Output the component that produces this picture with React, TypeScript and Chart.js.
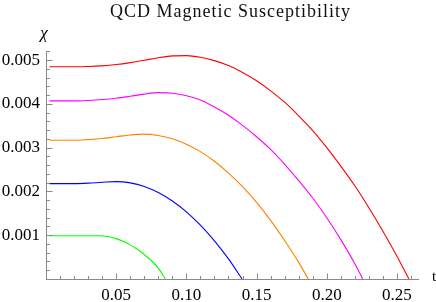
import React, { useEffect, useRef } from "react";
import { Chart, registerables } from "chart.js";

Chart.register(...registerables);

// ---- Data (t, chi) ----
const tRed = [0.0025, 0.01, 0.02, 0.03, 0.04, 0.05, 0.06, 0.07, 0.08, 0.09, 0.1, 0.11, 0.12, 0.13, 0.14, 0.15, 0.16, 0.17, 0.18, 0.19, 0.2, 0.21, 0.22, 0.23, 0.24, 0.25, 0.2585];
const chiRed = [0.00485, 0.00485, 0.00485, 0.004855, 0.00487, 0.0049, 0.004945, 0.005, 0.005055, 0.005098, 0.005105, 0.005067, 0.00499, 0.004876, 0.00472, 0.00453, 0.0043, 0.00404, 0.00373, 0.00339, 0.003, 0.00258, 0.00213, 0.00163, 0.00109, 0.00052, 0];

const tMagenta = [0.0025, 0.01, 0.02, 0.03, 0.04, 0.05, 0.06, 0.07, 0.08, 0.09, 0.1, 0.11, 0.12, 0.13, 0.14, 0.15, 0.16, 0.17, 0.18, 0.19, 0.2, 0.21, 0.22, 0.2256];
const chiMagenta = [0.00407, 0.00407, 0.00407, 0.00408, 0.0041, 0.00413, 0.004175, 0.004225, 0.004258, 0.004243, 0.004186, 0.00409, 0.00393, 0.00374, 0.00351, 0.00325, 0.00296, 0.00262, 0.00225, 0.00185, 0.0014, 0.0009, 0.00035, 0];

const tOrange = [0.0025, 0.01, 0.02, 0.03, 0.04, 0.05, 0.06, 0.069, 0.08, 0.09, 0.1, 0.11, 0.12, 0.13, 0.14, 0.15, 0.16, 0.17, 0.18, 0.1868];
const chiOrange = [0.00317, 0.00317, 0.00317, 0.003185, 0.00321, 0.00325, 0.00329, 0.00331, 0.00328, 0.003205, 0.00308, 0.00291, 0.00269, 0.00242, 0.00211, 0.00175, 0.00134, 0.00088, 0.00038, 0];

const tBlue = [0.0025, 0.01, 0.02, 0.03, 0.04, 0.05, 0.06, 0.07, 0.08, 0.09, 0.1, 0.11, 0.12, 0.13, 0.1397];
const chiBlue = [0.00218, 0.00218, 0.00218, 0.00219, 0.00221, 0.002225, 0.002197, 0.002115, 0.001977, 0.001783, 0.001535, 0.00123, 0.000872, 0.000459, 0];

const tGreen = [0.0025, 0.01, 0.02, 0.03, 0.037, 0.045, 0.05, 0.055, 0.06, 0.065, 0.07, 0.075, 0.08, 0.085];
const chiGreen = [0.00099, 0.00099, 0.00099, 0.00099, 0.00099, 0.000965, 0.000923, 0.00086, 0.00078, 0.00068, 0.00056, 0.00042, 0.00025, 0];

const seriesColors = ["#ff0000", "#ff00ff", "#ff8000", "#0000ff", "#00ff00"];

const xMin = 0;
const xMax = 0.265;
const xMajorStep = 0.05;
const xMinorStep = 0.01;
const yMin = 0;
const yMax = 0.00521;
const yMajorStep = 0.001;
const yMinorStep = 0.0002;

const titleText = "QCD Magnetic Susceptibility";
const xAxisLabel = "t";
const yAxisLabel = "χ";

const axisColor = "#8a8a8a";
const serif = "'Liberation Serif', 'Times New Roman', serif";

function toPoints(ts: number[], vs: number[]) {
  return ts.map((t, i) => ({ x: t, y: vs[i] }));
}

function drawSpaced(ctx: CanvasRenderingContext2D, text: string, cx: number, y: number, spacing: number) {
  const chars = Array.from(text);
  const widths = chars.map((c) => ctx.measureText(c).width);
  const total = widths.reduce((a, b) => a + b, 0) + spacing * (chars.length - 1);
  let x = cx - total / 2;
  ctx.textAlign = "left";
  chars.forEach((c, i) => {
    ctx.fillText(c, x, y);
    x += widths[i] + spacing;
  });
}

export default function App() {
  const ref = useRef<HTMLCanvasElement>(null);

  useEffect(() => {
    if (!ref.current) return;

    const decor = {
      id: "decor",
      afterDraw(chart: any) {
        const ctx = chart.ctx as CanvasRenderingContext2D;
        const xs = chart.scales.x;
        const ys = chart.scales.y;
        const ca = chart.chartArea;
        ctx.save();
        // minor / major tick marks pointing into the plot
        ctx.strokeStyle = axisColor;
        ctx.lineWidth = 1;
        ctx.beginPath();
        const axisY = Math.round(ca.bottom) + 0.5;
        const axisX = Math.round(ca.left) + 0.5;
        const nx = Math.floor((xMax - xMin) / xMinorStep + 1e-9);
        for (let i = 1; i <= nx; i++) {
          const v = xMin + i * xMinorStep;
          const px = Math.round(xs.getPixelForValue(v)) + 0.5;
          const len = i % 5 === 0 ? 6 : 3.5;
          ctx.moveTo(px, axisY);
          ctx.lineTo(px, axisY - len);
        }
        const ny = Math.floor((yMax - yMin) / yMinorStep + 1e-9);
        for (let i = 1; i <= ny; i++) {
          const v = yMin + i * yMinorStep;
          const py = Math.round(ys.getPixelForValue(v)) + 0.5;
          const len = i % 5 === 0 ? 6 : 3.5;
          ctx.moveTo(axisX, py);
          ctx.lineTo(axisX + len, py);
        }
        ctx.stroke();

        // title
        ctx.fillStyle = "#111";
        ctx.font = `18px ${serif}`;
        ctx.textBaseline = "alphabetic";
        drawSpaced(ctx, titleText, 230, 17, 1);

        // axis labels
        ctx.fillStyle = "#000";
        ctx.font = `italic 17px ${serif}`;
        ctx.textAlign = "center";
        ctx.fillText(yAxisLabel, 44, 38);
        ctx.font = `15px ${serif}`;
        ctx.fillText(xAxisLabel, 434, 281);
        ctx.restore();
      },
    };

    const chart = new Chart(ref.current, {
      type: "line",
      data: {
        datasets: [
          { data: toPoints(tRed, chiRed), borderColor: seriesColors[0] },
          { data: toPoints(tMagenta, chiMagenta), borderColor: seriesColors[1] },
          { data: toPoints(tOrange, chiOrange), borderColor: seriesColors[2] },
          { data: toPoints(tBlue, chiBlue), borderColor: seriesColors[3] },
          { data: toPoints(tGreen, chiGreen), borderColor: seriesColors[4] },
        ].map((d) => ({
          ...d,
          borderWidth: 1.1,
          pointRadius: 0,
          fill: false,
          cubicInterpolationMode: "monotone" as const,
        })),
      },
      options: {
        responsive: false,
        animation: false,
        events: [],
        layout: { padding: { left: 0, right: 18, top: 51, bottom: 0 } },
        plugins: {
          legend: { display: false },
          title: { display: false },
          tooltip: { enabled: false },
        },
        scales: {
          x: {
            type: "linear",
            min: xMin,
            max: xMax,
            grid: { display: false, drawTicks: false },
            border: { display: true, color: axisColor, width: 1 },
            ticks: {
              stepSize: xMajorStep,
              includeBounds: false,
              autoSkip: false,
              maxRotation: 0,
              minRotation: 0,
              padding: 6,
              color: "#000",
              font: { family: serif, size: 17 },
              callback: (v: any) => {
                const n = Math.round(Number(v) / xMajorStep);
                if (n === 0 || Math.abs(n * xMajorStep - Number(v)) > 1e-9) return "";
                return (n * xMajorStep).toFixed(2);
              },
            },
            afterFit: (s: any) => {
              s.height = 23;
              s.paddingLeft = 0;
              s.paddingRight = 0;
            },
          },
          y: {
            type: "linear",
            min: yMin,
            max: yMax,
            grid: { display: false, drawTicks: false },
            border: { display: true, color: axisColor, width: 1 },
            ticks: {
              stepSize: yMajorStep,
              includeBounds: false,
              autoSkip: false,
              padding: 6,
              color: "#000",
              font: { family: serif, size: 17 },
              callback: (v: any) => {
                const n = Math.round(Number(v) / yMajorStep);
                if (n === 0 || Math.abs(n * yMajorStep - Number(v)) > 1e-10) return "";
                return (n * yMajorStep).toFixed(3);
              },
            },
            afterFit: (s: any) => {
              s.width = 46;
              s.paddingTop = 0;
              s.paddingBottom = 0;
            },
          },
        },
      },
      plugins: [decor],
    });

    return () => chart.destroy();
  }, []);

  return (
    <div style={{ position: "fixed", left: 0, top: 0, width: 436, height: 302, background: "#fff" }}>
      <canvas ref={ref} width={436} height={302} style={{ display: "block", width: 436, height: 302 }} />
    </div>
  );
}
